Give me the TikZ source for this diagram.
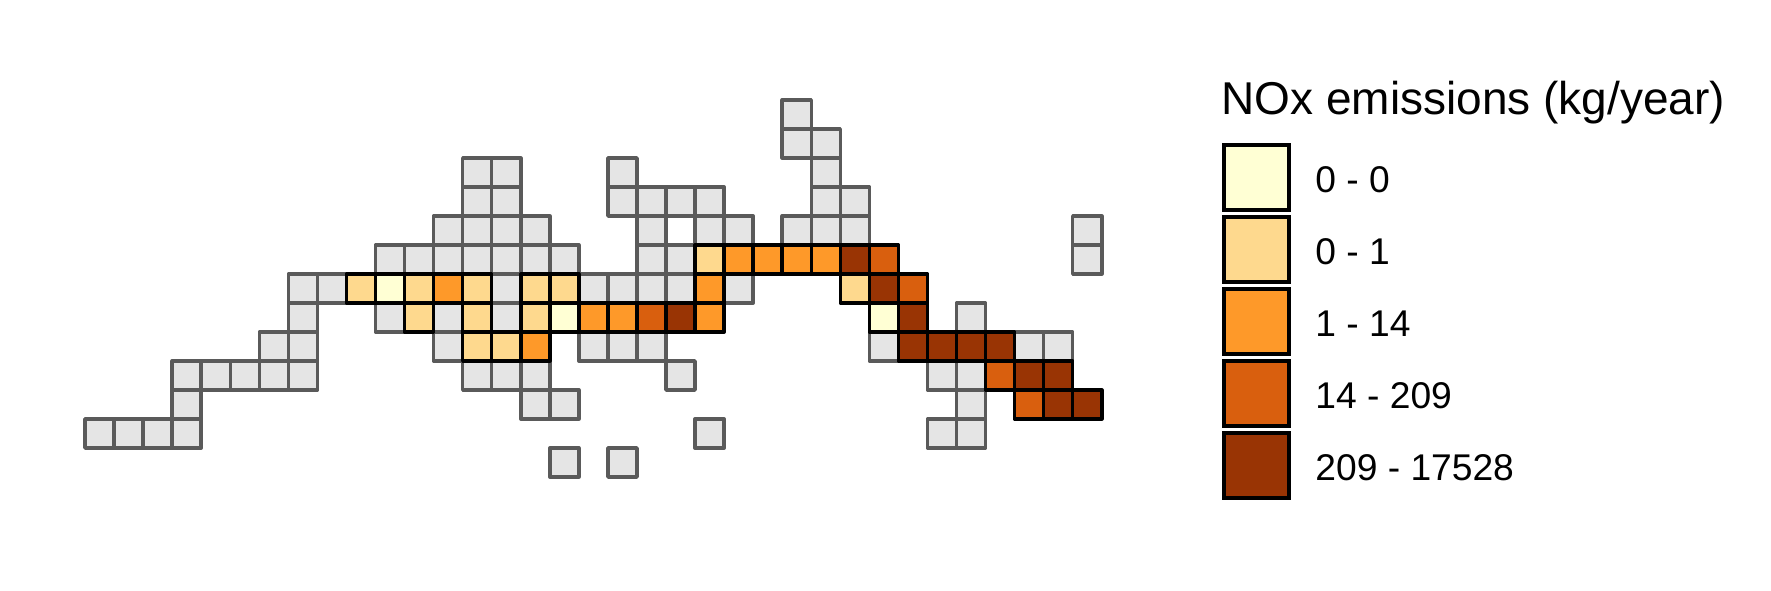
\documentclass[tikz,border=0pt]{standalone}
\usepackage{fontspec}
\setmainfont{Liberation Sans}
\definecolor{cgray}{HTML}{E5E5E5}
\definecolor{cedge}{HTML}{5A5A5A}
\definecolor{c0}{HTML}{FFFFD4}
\definecolor{c1}{HTML}{FED98E}
\definecolor{c2}{HTML}{FE9929}
\definecolor{c3}{HTML}{D95F0E}
\definecolor{c4}{HTML}{993404}
\tikzset{
  graycell/.style={fill=cgray,draw=cedge,line width=1.75pt,line join=round},
  valcell/.style={draw=black,line width=1.75pt,line join=round},
  keybox/.style={draw=black,line width=2pt,line join=miter},
  keylabel/.style={anchor=base west,inner sep=0pt,font=\fontsize{18.6}{18.6}\selectfont},
  keytitle/.style={anchor=base west,inner sep=0pt,font=\fontsize{23}{23}\selectfont}
}
\newcommand{\cellat}[3]{\path[#1] ({85+29.05*#3},{100+29*#2}) rectangle ({85+29.05*(#3+1)},{100+29*(#2+1)});}
\begin{document}
\begin{tikzpicture}[x=0.5pt,y=-0.5pt]
\useasboundingbox (0,0) rectangle (1771,590);
% grey cells: row / columns
\foreach \r/\cs in {0/{24},1/{24,25},2/{13,14,18,25},3/{13,14,18,19,20,21,25,26},
  4/{12,13,14,15,19,21,22,24,25,26,34},5/{10,11,12,13,14,15,16,19,20,34},
  6/{7,8,14,17,18,19,20,22},7/{7,10,12,14,30},8/{6,7,12,17,18,19,27,32,33},
  9/{3,4,5,6,7,13,14,15,20,29,30},10/{3,15,16,30},11/{0,1,2,3,21,29,30},12/{16,18}}
  {\foreach \c in \cs {\cellat{graycell}{\r}{\c}}}
% valued cells: colour / row / columns
\foreach \k/\r/\cs in {c0/6/{10},c0/7/{16,27},
  c1/5/{21},c1/6/{9,11,13,15,16,26},c1/7/{11,13,15},c1/8/{13,14},
  c2/5/{22,23,24,25},c2/6/{12,21},c2/7/{17,18,21},c2/8/{15},
  c3/5/{27},c3/6/{28},c3/7/{19},c3/9/{31},c3/10/{32},
  c4/5/{26},c4/6/{27},c4/7/{20,28},c4/8/{28,29,30,31},c4/9/{32,33},c4/10/{33,34}}
  {\foreach \c in \cs {\cellat{valcell,fill=\k}{\r}{\c}}}
% legend
\node[keytitle] (title) at (1221,114) {NOx emissions (kg/year)};
\foreach \k/\n/\t [count=\i from 0] in {c0/a/0 - 0,c1/b/0 - 1,c2/c/1 - 14,c3/d/14 - 209,c4/e/209 - 17528}{
  \path[keybox,fill=\k] (1223.5,{145.3+72*\i}) rectangle (1289,{210+72*\i});
  \node[keylabel] (lab\n) at (1315,{192.3+72*\i}) {\t};
}
\end{tikzpicture}
\end{document}
